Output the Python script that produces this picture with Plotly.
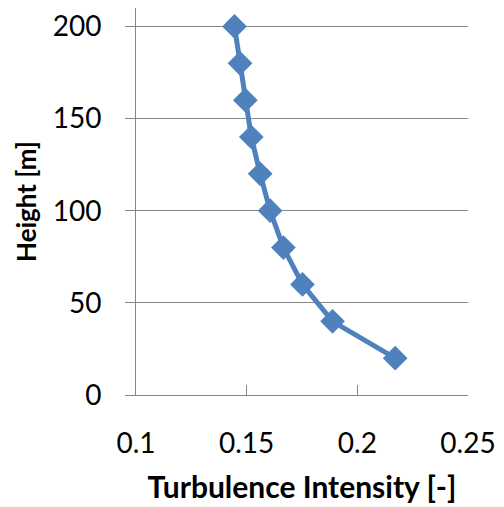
import plotly.graph_objects as go

heights = [200, 180, 160, 140, 120, 100, 80, 60, 40, 20]
intensity = [0.1445, 0.147, 0.1494, 0.1521, 0.1561, 0.1606, 0.1666, 0.1752, 0.1888, 0.2171]
x_ticks = [0.1, 0.15, 0.2, 0.25]
x_tick_labels = ["0.1", "0.15", "0.2", "0.25"]
y_ticks = [0, 50, 100, 150, 200]

color = "#4F81BD"
font_family = "Lato, Open Sans, sans-serif"

fig = go.Figure()
fig.add_trace(go.Scatter(
    x=intensity, y=heights, mode="lines+markers",
    line=dict(color=color, width=5),
    marker=dict(symbol="diamond", size=19, color=color),
    showlegend=False,
))

fig.update_layout(
    width=504, height=507,
    margin=dict(l=136, r=34, t=8, b=111),
    plot_bgcolor="white", paper_bgcolor="white",
    font=dict(family=font_family, size=28, color="black"),
    xaxis=dict(
        range=[0.1, 0.25], tickvals=x_ticks, ticktext=x_tick_labels,
        showgrid=False, showline=True, linecolor="#868686", linewidth=1,
        ticks="inside", ticklen=10, tickcolor="#868686",
        ticklabelstandoff=23,
        title=dict(text="<b>Turbulence Intensity [-]</b>", font=dict(size=30), standoff=19),
        zeroline=False,
    ),
    yaxis=dict(
        range=[0, 210], tickvals=y_ticks,
        showgrid=True, gridcolor="#868686", gridwidth=1,
        showline=True, linecolor="#868686", linewidth=1,
        ticks="outside", ticklen=10, tickcolor="#868686",
        ticklabelstandoff=18,
        title=dict(text="<b>Height [m]</b>", font=dict(size=26), standoff=8),
        zeroline=False,
    ),
)

fig.write_html("out.html")
